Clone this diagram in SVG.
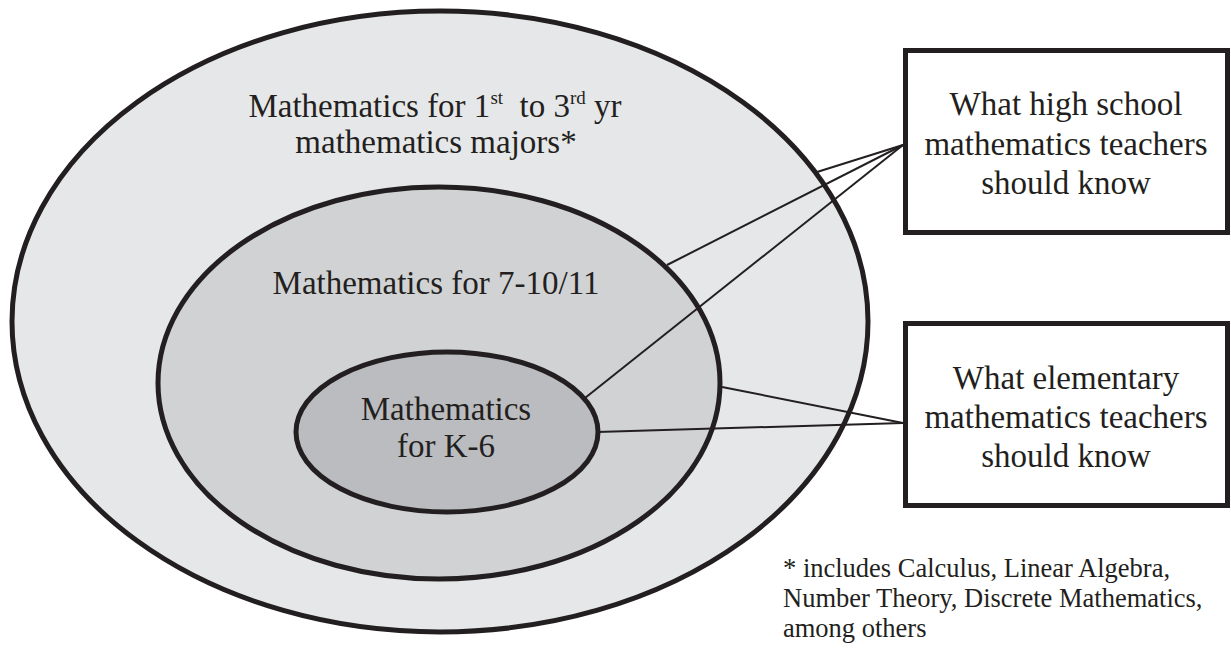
<svg xmlns="http://www.w3.org/2000/svg" width="1231" height="650" viewBox="0 0 1231 650">
<style>
.ell{stroke:#231f20;stroke-width:5}
.box{fill:#ffffff;stroke:#231f20;stroke-width:5}
.con{stroke:#231f20;stroke-width:2;fill:none}
text{font-family:"Liberation Serif","Times New Roman",serif;fill:#231f20;text-anchor:middle}
.lbl{font-size:33px}
.sup{font-size:19px}
.note{font-size:26.5px;text-anchor:start}
</style>
<rect width="1231" height="650" fill="#ffffff"/>
<g id="outer">
<ellipse class="ell" cx="440" cy="321.5" rx="428" ry="310.5" fill="#e6e7e8"/>
<text class="lbl" x="435" y="117">Mathematics for 1<tspan class="sup" dy="-13">st</tspan><tspan dy="13">&#160; to 3</tspan><tspan class="sup" dy="-13">rd</tspan><tspan dy="13"> yr</tspan></text>
<text class="lbl" x="436" y="153">mathematics majors*</text>
</g>
<g id="middle">
<ellipse class="ell" cx="439" cy="383" rx="281" ry="196" fill="#d1d2d4"/>
<text class="lbl" x="436" y="294">Mathematics for 7-10/11</text>
</g>
<g id="inner">
<ellipse class="ell" cx="447" cy="432" rx="151" ry="80" fill="#bbbcbf"/>
<text class="lbl" x="446" y="420">Mathematics</text>
<text class="lbl" x="446" y="457">for K-6</text>
</g>
<g id="connectors">
<line class="con" x1="903" y1="145" x2="817" y2="172"/>
<line class="con" x1="903" y1="145" x2="667" y2="265"/>
<line class="con" x1="903" y1="145" x2="585" y2="398"/>
<line class="con" x1="903" y1="423" x2="722" y2="387"/>
<line class="con" x1="903" y1="423" x2="597" y2="432"/>
</g>
<g id="highschool">
<rect class="box" x="905.5" y="50.5" width="322" height="182"/>
<text class="lbl" x="1066" y="115">What high school</text>
<text class="lbl" x="1066" y="155">mathematics teachers</text>
<text class="lbl" x="1066" y="194">should know</text>
</g>
<g id="elementary">
<rect class="box" x="905.5" y="323.5" width="322" height="182"/>
<text class="lbl" x="1066" y="389">What elementary</text>
<text class="lbl" x="1066" y="428">mathematics teachers</text>
<text class="lbl" x="1066" y="467">should know</text>
</g>
<g id="footnote">
<text class="note" x="783" y="577">* includes Calculus, Linear Algebra,</text>
<text class="note" x="783" y="607">Number Theory, Discrete Mathematics,</text>
<text class="note" x="783" y="637">among others</text>
</g>
</svg>
